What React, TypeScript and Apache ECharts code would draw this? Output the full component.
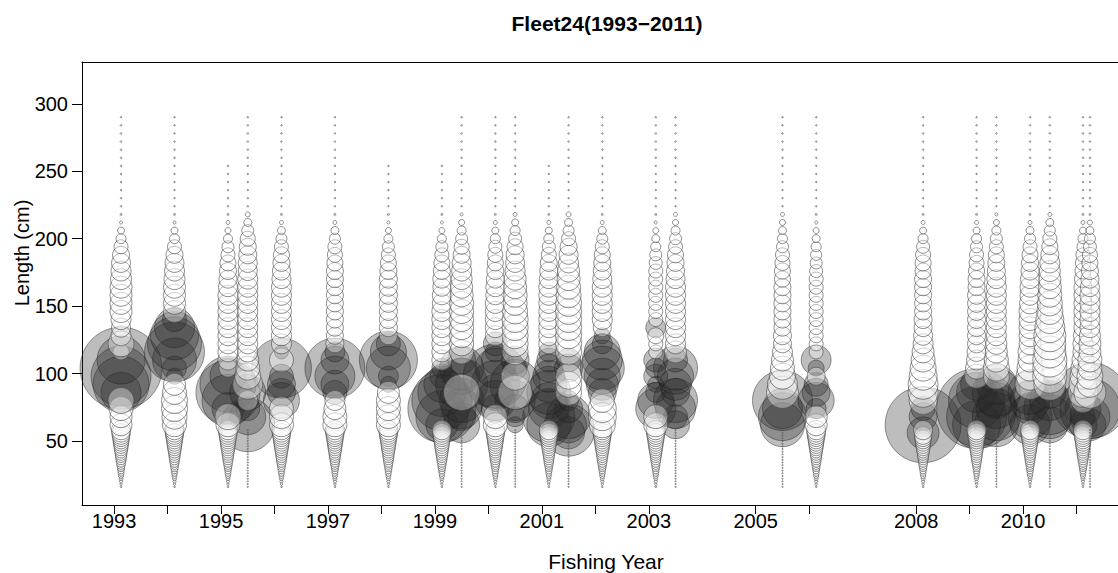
import React, { useEffect, useRef } from "react";
import * as echarts from "echarts";

// Length bins (cm): 2 cm bins for the small fish, 6 cm above
const LENGTHS = [
  16, 18, 20, 22, 24, 26, 28, 30, 32, 34, 36, 38, 40, 42, 44, 46, 48, 50, 52, 54, 56, 58,
  62, 68, 74, 80, 86, 92, 98, 104, 110, 116, 122, 128, 134, 140, 146, 152, 158, 164, 170, 176, 182, 188, 194, 200, 206, 212,
  218, 224, 230, 236, 242, 248, 254, 260, 266, 272, 278, 284, 290,
];

// Tick positions / labels of the x axis (years with samples)
const TICK_YEARS = [1993, 1994, 1995, 1996, 1997, 1998, 1999, 2000, 2001, 2002, 2003, 2005, 2006, 2008, 2009, 2010, 2011];
const LABEL_YEARS = [1993, 1995, 1997, 1999, 2001, 2003, 2005, 2008, 2010];
const Y_TICKS = [50, 100, 150, 200, 250, 300];

// Residuals by length bin for each sampling time (0 = no observation)
const R1993 = [
  -0.8, -1.2, -1.6, -2, -2.5, -2.9, -3.3, -3.7, -4.1, -4.6, -5, -5.4, -5.8, -6.2, -6.7, -7.1, -7.5, -7.9, -8.3, -8.8, -9.2, -9.6,
  -11, -11, -12, -13, 20, 28, 30, 41, 24, -8, -13, -10, -9.5, -10, -11, -11, -11, -11, -10.5, -10, -9.5, -8.5, -7, -5, -3.5, -1.5,
  -0.9, -0.7, -0.7, -0.7, -0.7, -0.7, -0.7, -0.7, -0.7, -0.7, -0.7, -0.7, -0.7,
];
const R1994 = [
  -0.8, -1.2, -1.6, -2, -2.5, -2.9, -3.3, -3.7, -4.1, -4.6, -5, -5.4, -5.8, -6.2, -6.7, -7.1, -7.5, -7.9, -8.3, -8.8, -9.2, -9.6,
  -12, -12.5, -13, -13, -12, -11, 8, 12, 22, 30, 27, 24, 20, 12, -11, -11, -11, -11, -10.5, -10, -9.5, -8.5, -7, -5, -3.5, -1.5,
  -0.9, -0.7, -0.7, -0.7, -0.7, -0.7, -0.7, -0.7, -0.7, -0.7, -0.7, -0.7, -0.7,
];
const R1995A = [
  -0.8, -1.2, -1.6, -2, -2.5, -2.9, -3.3, -3.7, -4.1, -4.6, -5, -5.4, -5.8, -6.2, -6.7, -7.1, -7.5, -7.9, -8.3, -8.8, -9.2, -9.6,
  -12, -13, 16, 26, 32, 28, 18, -9, -10, -10, -10, -10, -10, -10, -10, -10, -10, -9.5, -9, -8.5, -8, -7, -6, -4.5, -3, -2,
  -0.9, -0.7, -0.7, -0.7, -0.7, -0.7, -0.7, 0, 0, 0, 0, 0, 0,
];
const R1995B = [
  -0.6, -0.6, -0.6, -0.6, -0.6, -0.6, -0.6, -0.6, -0.6, -0.6, -0.6, -0.6, -0.6, -0.6, -0.6, -0.6, -0.6, -0.6, -0.6, -0.6, -0.6, -0.6,
  27, 18, 12, -10, 18, -15, -13, -12, -11, -10, -10, -10, -10, -10, -10, -10, -10, -10, -10, -9.5, -9.5, -9, -8.5, -7.5, -6, -4,
  -2.5, -0.7, -0.7, -0.7, -0.7, -0.7, -0.7, -0.7, -0.7, -0.7, -0.7, -0.7, -0.7,
];
const R1996 = [
  -0.8, -1.2, -1.6, -2, -2.5, -2.9, -3.3, -3.7, -4.1, -4.6, -5, -5.4, -5.8, -6.2, -6.7, -7.1, -7.5, -7.9, -8.3, -8.8, -9.2, -9.6,
  -12, -12, -12, 18, 14, 14, 12, 30, -12, 7, -10, -10, -10, -10, -10, -10, -10, -10, -9.5, -9, -8.5, -8, -7, -5.5, -4, -2,
  -0.9, -0.7, -0.7, -0.7, -0.7, -0.7, -0.7, -0.7, -0.7, -0.7, -0.7, -0.7, -0.7,
];
const R1997 = [
  -0.8, -1.2, -1.6, -2, -2.5, -2.9, -3.3, -3.7, -4.1, -4.6, -5, -5.4, -5.8, -6.2, -6.7, -7.1, -7.5, -7.9, -8.3, -8.8, -9.2, -9.6,
  -12, -12, -11, -10, 12, 14, 20, 30, 14, 10, -9, -8.5, -8.5, -8.5, -8.5, -8.5, -8.5, -8.5, -8.5, -8.5, -8, -7.5, -7, -5.5, -4, -2,
  -0.9, -0.7, -0.7, -0.7, -0.7, -0.7, -0.7, -0.7, -0.7, -0.7, -0.7, -0.7, -0.7,
];
const R1998 = [
  -0.8, -1.2, -1.6, -2, -2.5, -2.9, -3.3, -3.7, -4.1, -4.6, -5, -5.4, -5.8, -6.2, -6.7, -7.1, -7.5, -7.9, -8.3, -8.8, -9.2, -9.6,
  -12, -12, -12, -12, -11, 8, 10, 22, 29, 18, 12, -9, -9, -9, -9, -9, -9, -9, -9, -8.5, -8, -7, -6, -4.5, -3, -1.5,
  -0.9, -0.7, -0.7, -0.7, -0.7, -0.7, -0.7, 0, 0, 0, 0, 0, 0,
];
const R1999A = [
  -0.8, -1.2, -1.6, -2, -2.5, -2.9, -3.3, -3.7, -4.1, -4.6, -5, -5.4, -5.8, -6.2, -6.7, -7.1, -7.5, -7.9, -8.3, -8.8, -9.2, -9.6,
  16, 26, 34, 30, 24, 18, 12, 10, -10, -10, -10, -10, -10, -10, -10, -9.5, -9.5, -9, -9, -8.5, -8, -7, -6, -4.5, -3, -1.5,
  -0.9, -0.7, -0.7, -0.7, -0.7, -0.7, -0.7, 0, 0, 0, 0, 0, 0,
];
const R1999B = [
  -0.6, -0.6, -0.6, -0.6, -0.6, -0.6, -0.6, -0.6, -0.6, -0.6, -0.6, -0.6, -0.6, -0.6, -0.6, -0.6, -0.6, -0.6, -0.6, -0.6, -0.6, -0.6,
  18, 14, 20, 22, -18, 26, 18, 22, 14, -12, -12, -12, -12, -12, -12, -12, -11.5, -11, -10.5, -10, -9.5, -8.5, -7.5, -6, -4.5, -3,
  -1.5, -0.7, -0.7, -0.7, -0.7, -0.7, -0.7, -0.7, -0.7, -0.7, -0.7, -0.7, -0.7,
];
const R2000A = [
  -0.8, -1.2, -1.6, -2, -2.5, -2.9, -3.3, -3.7, -4.1, -4.6, -5, -5.4, -5.8, -6.2, -6.7, -7.1, -7.5, -7.9, -8.3, -8.8, -9.2, -9.6,
  -12, -12, 14, 20, 18, 24, 32, 20, 14, 10, 12, -10, -10, -10, -10, -10, -9.5, -9.5, -9, -8.5, -8, -7.5, -6.5, -5, -3.5, -2,
  -0.9, -0.7, -0.7, -0.7, -0.7, -0.7, -0.7, -0.7, -0.7, -0.7, -0.7, -0.7, -0.7,
];
const R2000B = [
  -0.6, -0.6, -0.6, -0.6, -0.6, -0.6, -0.6, -0.6, -0.6, -0.6, -0.6, -0.6, -0.6, -0.6, -0.6, -0.6, -0.6, -0.6, -0.6, -0.6, -0.6, -0.6,
  8, 10, 14, 20, -17, 25, -14, 12, 14, -13, -13, -13, -13, -13, -12.5, -12, -12, -11.5, -11, -10, -9.5, -9, -8, -6.5, -5, -3.5,
  -2, -0.7, -0.7, -0.7, -0.7, -0.7, -0.7, -0.7, -0.7, -0.7, -0.7, -0.7, -0.7,
];
const R2001A = [
  -0.8, -1.2, -1.6, -2, -2.5, -2.9, -3.3, -3.7, -4.1, -4.6, -5, -5.4, -5.8, -6.2, -6.7, -7.1, -7.5, -7.9, -8.3, -8.8, -9.2, -9.6,
  22, 26, 20, 18, 22, 18, 16, 14, 12, 10, -10, -10, -10, -10, -10, -10, -10, -10, -9.5, -9, -8.5, -7.5, -6.5, -5, -3.5, -2,
  -0.9, -0.7, -0.7, -0.7, -0.7, -0.7, -0.7, 0, 0, 0, 0, 0, 0,
];
const R2001B = [
  -0.6, -0.6, -0.6, -0.6, -0.6, -0.6, -0.6, -0.6, -0.6, -0.6, -0.6, -0.6, -0.6, -0.6, -0.6, -0.6, -0.6, -0.6, -0.6, -0.6, 16, 26,
  18, 22, 14, 10, -13, -13, -13, 14, 12, -13, -13, -13, -13, -13, -13, -13, -12.5, -12, -11.5, -11, -10, -9.5, -8.5, -7, -5.5, -4,
  -2.5, -0.7, -0.7, -0.7, -0.7, -0.7, -0.7, -0.7, -0.7, -0.7, -0.7, -0.7, -0.7,
];
const R2002 = [
  -0.8, -1.2, -1.6, -2, -2.5, -2.9, -3.3, -3.7, -4.1, -4.6, -5, -5.4, -5.8, -6.2, -6.7, -7.1, -7.5, -7.9, -8.3, -8.8, -9.2, -9.6,
  -13, -14, -14, -12, 14, 16, 18, 22, 20, 18, 10, 8, -9, -10, -10, -10, -10, -10, -9.5, -9, -8.5, -8, -7, -5.5, -4, -2,
  -0.9, -0.7, -0.7, -0.7, -0.7, -0.7, -0.7, -0.7, -0.7, -0.7, -0.7, -0.7, -0.7,
];
const R2003A = [
  -0.8, -1.2, -1.6, -2, -2.5, -2.9, -3.3, -3.7, -4.1, -4.6, -5, -5.4, -5.8, -6.2, -6.7, -7.1, -7.5, -7.9, -8.3, -8.8, -9.2, -9.6,
  -12, -12, 20, 18, 10, 8, 12, 10, 12, -7, -7, -8, 10, -7, -7, -7, -7, -7, -7, -7, -6.5, -6, -5, -4, -3, -1.5,
  -0.9, -0.7, -0.7, -0.7, -0.7, -0.7, -0.7, -0.7, -0.7, -0.7, -0.7, -0.7, -0.7,
];
const R2003B = [
  -0.6, -0.6, -0.6, -0.6, -0.6, -0.6, -0.6, -0.6, -0.6, -0.6, -0.6, -0.6, -0.6, -0.6, -0.6, -0.6, -0.6, -0.6, -0.6, -0.6, -0.6, -0.6,
  14, 12, 20, 22, 14, 16, 18, 22, 12, -11, -10, -10, -10, -10, -10, -10, -10, -10, -9.5, -9, -8.5, -8, -7, -6, -4.5, -3,
  -2, -0.7, -0.7, -0.7, -0.7, -0.7, -0.7, -0.7, -0.7, -0.7, -0.7, -0.7, -0.7,
];
const R2005 = [
  -0.6, -0.6, -0.6, -0.6, -0.6, -0.6, -0.6, -0.6, -0.6, -0.6, -0.6, -0.6, -0.6, -0.6, -0.6, -0.6, -0.6, -0.6, -0.6, -0.6, -0.6, -0.6,
  22, 24, 20, 30, -16, -15, -13, -12, -11, -10, -9, -9, -8.5, -8.5, -8.5, -8.5, -8.5, -8.5, -8, -8, -7.5, -7, -6, -5, -4, -3,
  -2, -0.7, -0.7, -0.7, -0.7, -0.7, -0.7, -0.7, -0.7, -0.7, -0.7, -0.7, -0.7,
];
const R2006 = [
  -0.8, -1.2, -1.6, -2, -2.5, -2.9, -3.3, -3.7, -4.1, -4.6, -5, -5.4, -5.8, -6.2, -6.7, -7.1, -7.5, -7.9, -8.3, -8.8, -9.2, -9.6,
  -11, -11, 10, 18, 14, 12, -9, 8, 15, -7, -7, -7, -7, -7, -7, -7, -7, -7, -7, -6.5, -6, -5.5, -5, -4, -3, -1.5,
  -0.9, -0.7, -0.7, -0.7, -0.7, -0.7, -0.7, -0.7, -0.7, -0.7, -0.7, -0.7, -0.7,
];
const R2008 = [
  -0.8, -1.2, -1.6, -2, -2.5, -2.9, -3.3, -3.7, -4.1, -4.6, -5, -5.4, -5.8, -6.2, -6.7, -7.1, -7.5, -7.9, -8.3, -8.8, 16, -9.6,
  38, 14, 12, -14, -15, -15, -14, -13, -12, -11, -10, -9.5, -9, -9, -8.5, -8.5, -8.5, -8.5, -8.5, -8, -8, -7.5, -6.5, -5, -3.5, -2,
  -0.9, -0.7, -0.7, -0.7, -0.7, -0.7, -0.7, -0.7, -0.7, -0.7, -0.7, -0.7, -0.7,
];
const R2009A = [
  -0.8, -1.2, -1.6, -2, -2.5, -2.9, -3.3, -3.7, -4.1, -4.6, -5, -5.4, -5.8, -6.2, -6.7, -7.1, -7.5, -7.9, -8.3, -8.8, -9.2, -9.6,
  24, 30, 40, 28, 20, 16, -12, -11, -10, -9.5, -9, -9, -9, -9, -9, -9, -9, -8.5, -8.5, -8, -7.5, -7, -6, -5, -3.5, -2,
  -0.9, -0.7, -0.7, -0.7, -0.7, -0.7, -0.7, -0.7, -0.7, -0.7, -0.7, -0.7, -0.7,
];
const R2009B = [
  -0.6, -0.6, -0.6, -0.6, -0.6, -0.6, -0.6, -0.6, -0.6, -0.6, -0.6, -0.6, -0.6, -0.6, -0.6, -0.6, -0.6, -0.6, -0.6, -0.6, -0.6, -0.6,
  22, 24, 20, 18, 24, 20, -13, -13, -12, -11, -10.5, -10, -10, -10, -10, -10, -10, -10, -9.5, -9, -8.5, -8, -7, -6, -4.5, -3,
  -1.5, -0.7, -0.7, -0.7, -0.7, -0.7, -0.7, -0.7, -0.7, -0.7, -0.7, -0.7, -0.7,
];
const R2010A = [
  -0.8, -1.2, -1.6, -2, -2.5, -2.9, -3.3, -3.7, -4.1, -4.6, -5, -5.4, -5.8, -6.2, -6.7, -7.1, -7.5, -7.9, -8.3, -8.8, -9.2, -9.6,
  20, 22, 16, 20, 22, -15, -14, -13, -12, -12, -11, -11, -11, -11, -11, -10.5, -10, -10, -9.5, -9, -8.5, -8, -7, -5.5, -4, -2,
  -0.9, -0.7, -0.7, -0.7, -0.7, -0.7, -0.7, -0.7, -0.7, -0.7, -0.7, -0.7, -0.7,
];
const R2010B = [
  -0.6, -0.6, -0.6, -0.6, -0.6, -0.6, -0.6, -0.6, -0.6, -0.6, -0.6, -0.6, -0.6, -0.6, -0.6, -0.6, -0.6, -0.6, -0.6, -0.6, -0.6, -0.6,
  18, 22, 26, 20, 16, -16, -17, -17, -17, -16, -16, -16, -15, -14, -13, -12.5, -12, -11.5, -11, -10.5, -10, -9, -8, -7, -5.5, -4,
  -2, -0.7, -0.7, -0.7, -0.7, -0.7, -0.7, -0.7, -0.7, -0.7, -0.7, -0.7, -0.7,
];
const R2011A = [
  -0.8, -1.2, -1.6, -2, -2.5, -2.9, -3.3, -3.7, -4.1, -4.6, -5, -5.4, -5.8, -6.2, -6.7, -7.1, -7.5, -7.9, -8.3, -8.8, -9.2, -9.6,
  14, 12, 18, -12, -15, -14, -13, -12, -11, -10, -10, -9.5, -9, -9, -9, -9, -9, -9, -8.5, -8, -7.5, -7, -6, -5, -3.5, -2,
  -0.9, -0.7, -0.7, -0.7, -0.7, -0.7, -0.7, -0.7, -0.7, -0.7, -0.7, -0.7, -0.7,
];
const R2011B = [
  -0.6, -0.6, -0.6, -0.6, -0.6, -0.6, -0.6, -0.6, -0.6, -0.6, -0.6, -0.6, -0.6, -0.6, -0.6, -0.6, -0.6, -0.6, -0.6, -0.6, -0.6, -0.6,
  16, 20, 30, 38, -16, -13, -13, -12, -12, -11, -11, -10.5, -10, -10, -10, -10, -10, -9.5, -9, -8.5, -8, -7.5, -6.5, -5.5, -4, -2.5,
  -0.9, -0.7, -0.7, -0.7, -0.7, -0.7, -0.7, -0.7, -0.7, -0.7, -0.7, -0.7, -0.7,
];

// Sampling times (fishing year + season offset)
const TIMES = [
  1993.13, 1994.13, 1995.13, 1995.5, 1996.13, 1997.13, 1998.13, 1999.13, 1999.5, 2000.13, 2000.5,
  2001.13, 2001.5, 2002.13, 2003.13, 2003.5, 2005.5, 2006.13, 2008.13, 2009.13, 2009.5, 2010.13, 2010.5,
  2011.12, 2011.25,
];
const RESIDUALS = [
  R1993, R1994, R1995A, R1995B, R1996, R1997, R1998, R1999A, R1999B, R2000A, R2000B,
  R2001A, R2001B, R2002, R2003A, R2003B, R2005, R2006, R2008, R2009A, R2009B, R2010A, R2010B,
  R2011A, R2011B,
];

const FONT = '"Liberation Sans", Arial, sans-serif';

export default function App() {
  const ref = useRef<HTMLDivElement>(null);
  useEffect(() => {
    if (!ref.current) return;
    const chart = echarts.init(ref.current, undefined, { renderer: "svg" });
    const pos: number[][] = [];
    const neg: number[][] = [];
    TIMES.forEach((t, ci) => {
      RESIDUALS[ci].forEach((r, li) => {
        if (r > 0) pos.push([t, LENGTHS[li], r]);
        else if (r < 0) neg.push([t, LENGTHS[li], r]);
      });
    });
    const xMin = 1992.4;
    const xMax = 2011.775;
    const lineStyle = { color: "#000", width: 1 };
    chart.setOption({
      animation: false,
      backgroundColor: "#fff",
      grid: { left: 82, right: 0, top: 62, bottom: 68, show: false },
      xAxis: [
        {
          type: "value",
          min: xMin,
          max: xMax,
          position: "bottom",
          axisLine: { show: true, onZero: false, lineStyle },
          axisTick: { show: true, customValues: TICK_YEARS, length: 9, lineStyle },
          axisLabel: {
            show: true,
            customValues: LABEL_YEARS,
            formatter: (v: number) => String(v),
            fontSize: 20,
            fontFamily: FONT,
            color: "#000",
            margin: 6,
          },
          splitLine: { show: false },
        },
        {
          type: "value",
          min: xMin,
          max: xMax,
          position: "top",
          axisLine: { show: true, onZero: false, lineStyle },
          axisTick: { show: false },
          axisLabel: { show: false },
          splitLine: { show: false },
        },
      ],
      yAxis: {
        type: "value",
        min: 2.5,
        max: 331,
        axisLine: { show: true, onZero: false, lineStyle },
        axisTick: { show: true, customValues: Y_TICKS, length: 10, lineStyle },
        axisLabel: {
          show: true,
          customValues: Y_TICKS,
          formatter: (v: number) => String(v),
          fontSize: 20,
          fontFamily: FONT,
          color: "#000",
          margin: 14,
        },
        splitLine: { show: false },
      },
      series: [
        {
          type: "scatter",
          data: pos,
          symbol: "circle",
          symbolSize: (v: number[]) => Math.abs(v[2]) * 2,
          itemStyle: { color: "rgba(40,40,40,0.38)", borderColor: "rgba(30,30,30,0.55)", borderWidth: 1 },
          emphasis: { disabled: true },
        },
        {
          type: "scatter",
          data: neg,
          symbol: "circle",
          symbolSize: (v: number[]) => Math.abs(v[2]) * 2,
          itemStyle: { color: "rgba(255,255,255,0.45)", borderColor: "rgba(70,70,70,0.75)", borderWidth: 1 },
          emphasis: { disabled: true },
        },
      ],
      graphic: [
        {
          type: "text",
          x: 607,
          y: 23,
          style: {
            text: "Fleet24(1993\u22122011)",
            font: `bold 21px ${FONT}`,
            fill: "#000",
            textAlign: "center",
            textVerticalAlign: "middle",
          },
        },
        {
          type: "text",
          x: 606,
          y: 561,
          style: {
            text: "Fishing Year",
            font: `21px ${FONT}`,
            fill: "#000",
            textAlign: "center",
            textVerticalAlign: "middle",
          },
        },
        {
          type: "text",
          x: 22,
          y: 253,
          rotation: Math.PI / 2,
          style: {
            text: "Length (cm)",
            font: `20px ${FONT}`,
            fill: "#000",
            textAlign: "center",
            textVerticalAlign: "middle",
          },
        },
      ],
    });
    return () => chart.dispose();
  }, []);
  return (
    <div
      ref={ref}
      style={{ position: "fixed", left: 0, top: 0, width: 1118, height: 573, background: "#fff" }}
    />
  );
}
